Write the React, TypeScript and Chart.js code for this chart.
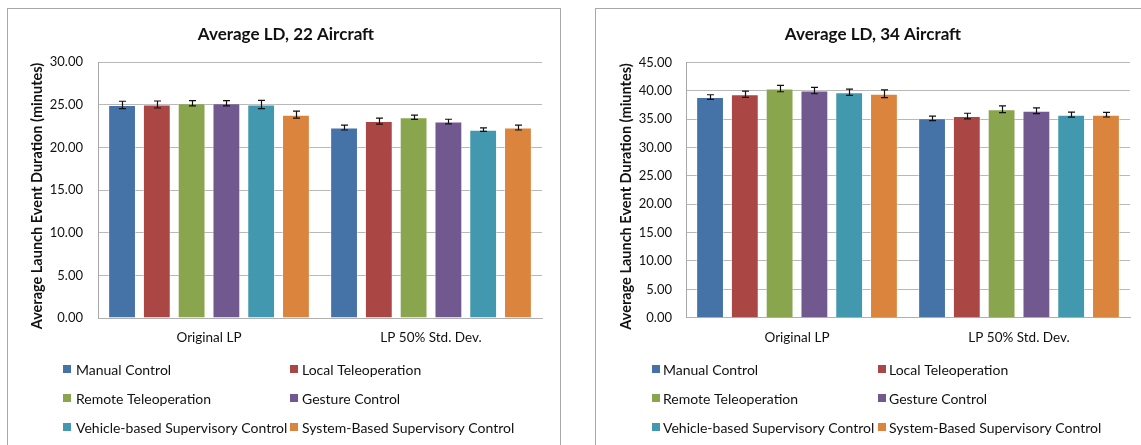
import React, { useEffect, useRef } from "react";
import { Chart, registerables } from "chart.js";

Chart.register(...registerables);

const categories = ["Original LP", "LP 50% Std. Dev."];
const seriesNames = [
  "Manual Control",
  "Local Teleoperation",
  "Remote Teleoperation",
  "Gesture Control",
  "Vehicle-based Supervisory Control",
  "System-Based Supervisory Control",
];
const seriesColors = ["#4572A7", "#AA4643", "#89A54E", "#71588F", "#4198AF", "#DB843D"];

// 22 aircraft
const ld22Original = [25.0, 25.05, 25.2, 25.2, 25.05, 23.85];
const ld22OriginalErr = [0.43, 0.41, 0.31, 0.31, 0.49, 0.41];
const ld22Std = [22.35, 23.1, 23.55, 23.05, 22.1, 22.35];
const ld22StdErr = [0.29, 0.35, 0.25, 0.27, 0.2, 0.29];

// 34 aircraft
const ld34Original = [38.9, 39.4, 40.4, 40.05, 39.75, 39.5];
const ld34OriginalErr = [0.41, 0.56, 0.56, 0.56, 0.56, 0.68];
const ld34Std = [35.15, 35.55, 36.75, 36.5, 35.8, 35.8];
const ld34StdErr = [0.41, 0.5, 0.59, 0.5, 0.44, 0.41];

const FONT = "Lato, 'Open Sans', sans-serif";

const errorBarPlugin = {
  id: "errorBars",
  afterDatasetsDraw(chart: any) {
    const ctx = chart.ctx;
    const y = chart.scales.y;
    ctx.save();
    ctx.strokeStyle = "#111";
    ctx.lineWidth = 1.2;
    chart.data.datasets.forEach((ds: any, i: number) => {
      const meta = chart.getDatasetMeta(i);
      meta.data.forEach((bar: any, j: number) => {
        const v = ds.data[j];
        const e = ds.errors[j];
        const x = Math.round(bar.x) + 0.5;
        const top = y.getPixelForValue(v + e);
        const bot = y.getPixelForValue(v - e);
        ctx.beginPath();
        ctx.moveTo(x, top);
        ctx.lineTo(x, bot);
        ctx.moveTo(x - 3.5, top);
        ctx.lineTo(x + 3.5, top);
        ctx.moveTo(x - 3.5, bot);
        ctx.lineTo(x + 3.5, bot);
        ctx.stroke();
      });
    });
    ctx.restore();
  },
};

const gridLegendPlugin = {
  id: "gridLegend",
  afterDraw(chart: any, _args: any, opts: any) {
    if (!opts || !opts.cols) return;
    const ctx = chart.ctx;
    ctx.save();
    ctx.font = `${opts.fontSize}px ${FONT}`;
    ctx.textBaseline = "middle";
    ctx.textAlign = "left";
    chart.data.datasets.forEach((ds: any, i: number) => {
      const col = opts.cols[i % 2];
      const y = opts.rows[Math.floor(i / 2)];
      ctx.fillStyle = ds.backgroundColor;
      ctx.fillRect(col.box, y - 5, 8, 8);
      ctx.fillStyle = "#111";
      ctx.fillText(ds.label, col.text, y);
    });
    ctx.restore();
  },
};

const titlesPlugin = {
  id: "placedTitles",
  afterDraw(chart: any, _args: any, opts: any) {
    if (!opts || !opts.title) return;
    const ctx = chart.ctx;
    ctx.save();
    ctx.fillStyle = "#111";
    ctx.textAlign = "center";
    ctx.textBaseline = "middle";
    ctx.font = `bold 17px ${FONT}`;
    ctx.fillText(opts.title, opts.titleX, opts.titleY);
    ctx.translate(opts.yTitleX, opts.yTitleY);
    ctx.rotate(-Math.PI / 2);
    ctx.font = `bold 14.5px ${FONT}`;
    ctx.fillText(opts.yTitle, 0, 0);
    ctx.restore();
  },
};

function buildConfig(p: any) {
  const datasets = seriesNames.map((name, i) => ({
    label: name,
    data: [p.orig[i], p.std[i]],
    errors: [p.origErr[i], p.stdErr[i]],
    backgroundColor: seriesColors[i],
    borderColor: "rgba(255,255,255,0.45)",
    borderWidth: 1,
    barPercentage: 0.8,
    categoryPercentage: 0.94,
  }));
  return {
    type: "bar",
    data: { labels: categories, datasets },
    plugins: [errorBarPlugin, gridLegendPlugin, titlesPlugin],
    options: {
      responsive: false,
      animation: false,
      layout: { padding: { left: p.padLeft, right: p.padRight, top: p.padTop, bottom: p.padBottom } },
      plugins: {
        legend: { display: false },
        tooltip: { enabled: false },
        title: { display: false },
        gridLegend: p.legend,
        placedTitles: p.titles,
      },
      scales: {
        x: {
          grid: { display: false, drawTicks: false },
          border: { display: true, color: "#b0b0b0", width: 1 },
          ticks: { color: "#111", font: { family: FONT, size: 13.5 }, padding: 12 },
        },
        y: {
          min: 0,
          max: p.max,
          afterFit: (scale: any) => {
            scale.width = p.yWidth;
          },
          grid: { color: "#b8b8b8", lineWidth: 1, drawTicks: false },
          border: { display: true, color: "#a8a8a8", width: 1 },
          ticks: {
            stepSize: 5,
            color: "#111",
            font: { family: FONT, size: 13 },
            padding: p.tickPad,
            callback: (v: any) => Number(v).toFixed(2),
          },
        },
      },
    },
  };
}

function ChartBox(props: { cfg: any; width: number; height: number }) {
  const ref = useRef<HTMLCanvasElement | null>(null);
  useEffect(() => {
    if (!ref.current) return;
    const chart = new Chart(ref.current, buildConfig(props.cfg) as any);
    return () => chart.destroy();
  }, []);
  return <canvas ref={ref} width={props.width} height={props.height} style={{ display: "block" }} />;
}

const leftCfg = {
  titles: {
    title: "Average LD, 22 Aircraft",
    titleX: 279,
    titleY: 27,
    yTitle: "Average Launch Event Duration (minutes)",
    yTitleX: 30.5,
    yTitleY: 188,
  },
  orig: ld22Original,
  origErr: ld22OriginalErr,
  std: ld22Std,
  stdErr: ld22StdErr,
  max: 30,
  padLeft: 10,
  padRight: 18,
  padTop: 54.3,
  padBottom: 86.8,
  yWidth: 81,
  tickPad: 15,
  legend: {
    fontSize: 14,
    cols: [
      { box: 56, text: 69 },
      { box: 283, text: 295 },
    ],
    rows: [362, 391, 420],
  },
};

const rightCfg = {
  titles: {
    title: "Average LD, 34 Aircraft",
    titleX: 277,
    titleY: 26,
    yTitle: "Average Launch Event Duration (miuntes)",
    yTitleX: 30.5,
    yTitleY: 187.5,
  },
  orig: ld34Original,
  origErr: ld34OriginalErr,
  std: ld34Std,
  stdErr: ld34StdErr,
  max: 45,
  padLeft: 10,
  padRight: 11,
  padTop: 53.5,
  padBottom: 87.1,
  yWidth: 80,
  tickPad: 14,
  legend: {
    fontSize: 14,
    cols: [
      { box: 56, text: 67 },
      { box: 282, text: 293 },
    ],
    rows: [361, 390, 419],
  },
};

export default function App() {
  return (
    <div
      style={{
        position: "fixed",
        left: 0,
        top: 0,
        width: 1141,
        height: 445,
        overflow: "hidden",
        background: "#fff",
      }}
    >
      <div style={{ position: "absolute", left: 7, top: 8 }}>
        <ChartBox cfg={leftCfg} width={553} height={437} />
      </div>
      <div
        style={{
          position: "absolute",
          left: 7,
          top: 8,
          width: 552,
          height: 500,
          border: "1px solid #a8a8a8",
          pointerEvents: "none",
        }}
      />
      <div style={{ position: "absolute", left: 596, top: 9 }}>
        <ChartBox cfg={rightCfg} width={545} height={436} />
      </div>
      <div
        style={{
          position: "absolute",
          left: 595,
          top: 8,
          width: 600,
          height: 500,
          border: "1px solid #a8a8a8",
          pointerEvents: "none",
        }}
      />
    </div>
  );
}
